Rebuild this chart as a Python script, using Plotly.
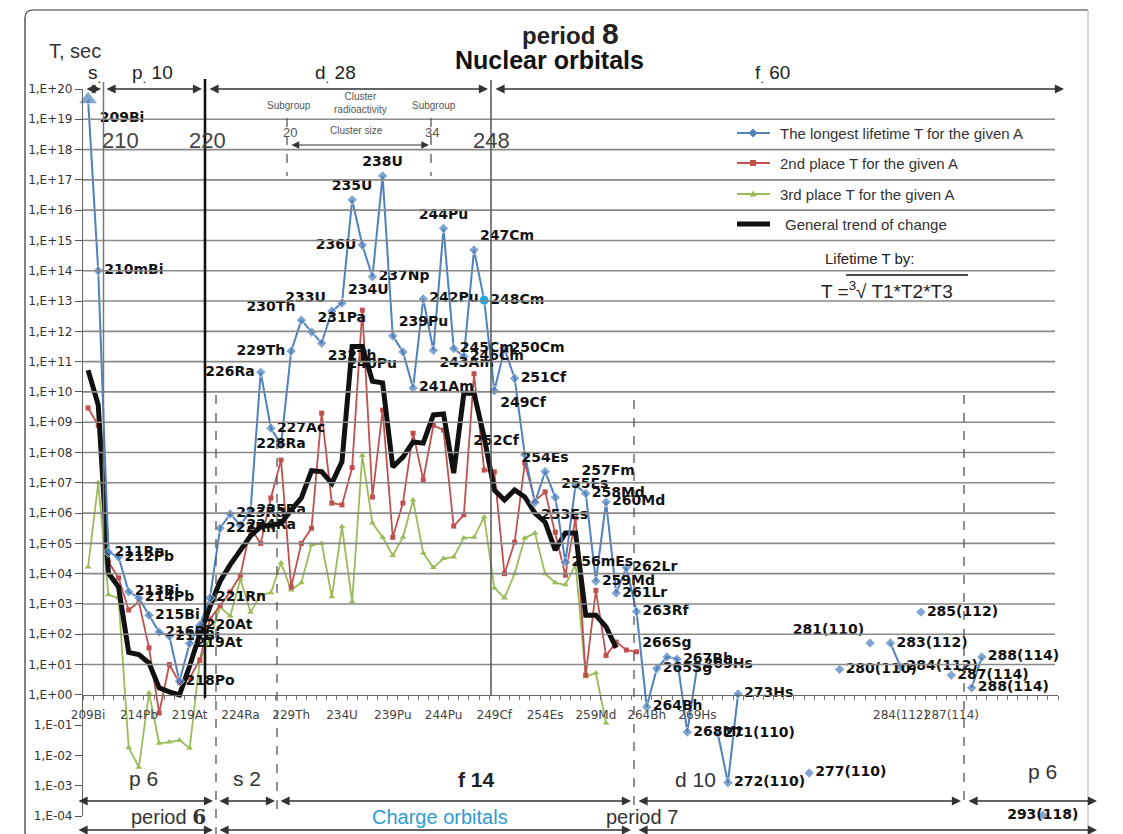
import plotly.graph_objects as go

# ---------------- DATA ----------------
categories = [
    "209Bi", "210mBi", "211Rn", "212Pb", "213Bi", "214Pb", "215Bi", "216Bi", "217Bi", "218Po",
    "219At", "220At", "221Rn", "222Rn", "223Ra", "224Ra", "225Ra", "226Ra", "227Ac", "228Ra",
    "229Th", "230Th", "231Pa", "232Th", "233U", "234U", "235U", "236U", "237Np", "238U",
    "239Pu", "240Pu", "241Am", "242Pu", "243Am", "244Pu", "245Cm", "246Cm", "247Cm", "248Cm",
    "249Cf", "250Cm", "251Cf", "252Cf", "253Es", "254Es", "255Es", "256mEs", "257Fm", "258Md",
    "259Md", "260Md", "261Lr", "262Lr", "263Rf", "264Bh", "265Sg", "266Sg", "267Bh", "268Mt",
    "269Hs", "", "271(110)", "272(110)", "273Hs", "", "", "", "", "",
    "", "277(110)", "", "", "280(110)", "", "", "281(110)", "", "283(112)",
    "284(112)", "", "285(112)", "", "", "287(114)", "", "288(114)", "288(114)", "",
    "", "", "", "", "293(118)",
]

# log10(T, s)
longest_log10T = [
    19.65, 14.0, 4.71, 4.55, 3.4, 3.2, 2.63, 2.07, 1.94, 0.45,
    1.7, 2.3, 3.2, 5.5, 5.97, 5.6, 6.1, 10.65, 8.8, 8.26,
    11.35, 12.37, 11.98, 11.61, 12.67, 12.93, 16.34, 14.85, 13.8, 17.13,
    11.85, 11.32, 10.13, 13.07, 11.37, 15.4, 11.43, 11.17, 14.69, 13.03,
    10.04, 11.42, 10.45, 7.92, 6.35, 7.37, 6.52, 4.38, 6.93, 6.65,
    3.75, 6.37, 3.36, 4.2, 2.75, -0.4, 0.87, 1.25, 1.18, -1.23,
    1.0, None, -1.26, -2.9, 0.03, None, None, None, None, None,
    None, -2.58, None, None, 0.84, None, None, 1.71, None, 1.71,
    0.92, None, 2.73, None, None, 0.65, None, 0.23, 1.25, None,
    None, None, None, None, -3.97,
]

second_log10T = [
    9.47, 8.9, 4.39, 3.86, 2.8, 3.06, 1.55, -0.6, 1.0, 0.39,
    0.55, 1.15, 2.5, 2.95, 3.4, 3.95, 5.5, 5.0, 6.5, 7.75,
    3.56, 5.0, 5.5, 9.3, 6.33, 6.27, 7.5, 12.7, 6.53, 9.4,
    5.2, 6.33, 8.64, 7.1, 8.9, 8.74, 5.57, 5.94, 10.6, 7.42,
    7.36, 4.0, 5.04, 7.65, 6.4, 6.7, 5.37, 3.95, 5.84, 0.65,
    3.45, 1.3, 1.74, 1.48, 1.42,
]

third_log10T = [
    4.22, 7.0, 3.3, 3.2, -1.75, -2.39, 0.06, -1.6, -1.56, -1.5,
    -1.76, 1.1, 1.9, 2.9, 2.6, 3.82, 2.73, 3.3, 3.37, 4.35,
    3.46, 3.7, 4.95, 5.0, 3.24, 5.55, 3.07, 7.9, 5.67, 5.2,
    4.6, 5.2, 6.43, 4.68, 4.2, 4.5, 4.55, 5.18, 5.2, 5.87,
    3.53, 3.2, 4.0, 5.18, 5.34, 4.0, 3.7, 3.63, 4.3, 0.6,
    0.72, -0.93,
]

trend_log10T = [
    10.72, 9.57, 4.02, 3.56, 1.4, 1.33, 1.05, 0.23, 0.1, 0.0,
    0.95, 2.0, 2.9, 3.75, 4.3, 4.75, 5.25, 5.55, 5.6, 5.66,
    6.1, 6.5, 7.4, 7.37, 6.98, 7.7, 11.5, 11.5, 10.35, 10.3,
    7.52, 7.85, 8.35, 8.31, 9.24, 9.27, 7.32, 9.96, 9.96, 8.5,
    6.76, 6.43, 6.76, 6.53, 6.0, 5.7, 4.78, 5.34, 5.34, 2.63,
    2.63, 2.24, 1.55,
]

ytick_exponents = list(range(-4, 21))
xtick_step = 5

legend_texts = ["The longest lifetime T for the given A", "2nd place T for the given A",
                "3rd place T for the given A", "General trend of change"]

# ---------------- STYLE ----------------
BLUE, RED, GREEN, BLACK = "#4F81BD", "#C0504D", "#9BBB59", "#111111"
LIGHTBLUE = "#1FA7E3"
TXT = "Liberation Sans"
LBL = "DejaVu Sans"

label_pos = {0: "bottom right", 17: "middle left", 19: "middle center", 20: "middle left",
             21: "top left", 22: "top right", 23: "bottom right", 24: "top left", 25: "top right",
             26: "top center", 27: "middle left", 29: "top center", 30: "top right", 31: "bottom left",
             34: "bottom right", 35: "top center", 38: "top right", 40: "bottom right", 43: "top left",
             44: "bottom right", 45: "top center", 46: "top right", 48: "top right", 57: "top center",
             77: "top left", 94: "middle center"}

W, H = 1123, 834
L, R, T, B = 83, 1058, 89, 816


def px(x):
    return (x - L) / (R - L)


def py(y):
    return (B - y) / (B - T)


def to_T(vals):
    return [None if v is None else 10.0 ** v for v in vals]


shapes = []
annotations = []


def line(x0, y0, x1, y1, color="#333", width=1.3, dash="solid"):
    shapes.append(dict(type="line", xref="paper", yref="paper", x0=px(x0), y0=py(y0),
                       x1=px(x1), y1=py(y1), line=dict(color=color, width=width, dash=dash)))


def darrow(x0, x1, y, color="#333", width=1.3):
    annotations.append(dict(x=px(x1), y=py(y), xref="paper", yref="paper", text="",
                            showarrow=True, ax=x0 - x1, ay=0, axref="pixel", ayref="pixel",
                            arrowhead=2, startarrowhead=2, arrowside="end+start",
                            arrowsize=1.4, startarrowsize=1.4, arrowwidth=width, arrowcolor=color))


def txt(x, y, s, size=14, color="#222", family=TXT, xanchor="center", yanchor="middle"):
    annotations.append(dict(x=px(x), y=py(y), xref="paper", yref="paper", text=s, showarrow=False,
                            xanchor=xanchor, yanchor=yanchor,
                            font=dict(size=size, color=color, family=family)))


# horizontal grid lines (decades 1..19)
for k in range(1, 20):
    shapes.append(dict(type="line", xref="paper", yref="paper", x0=0, x1=px(1055),
                       y0=(k + 4) / 24, y1=(k + 4) / 24, line=dict(color="#8a8a8a", width=1.6)))

# vertical lines
line(103.5, 82, 103.5, 695, "#777", 1.5)
line(205, 79, 205, 698, "#111", 2.6)
line(491, 80, 491, 695, "#555", 1.5)
for xv, y0, y1 in [(216, 395, 834), (277, 440, 812), (634, 400, 808), (964, 395, 808),
                   (287, 118, 176), (431, 118, 176)]:
    line(xv, y0, xv, y1, "#555", 1.3, "dash")

# outer frame
shapes.append(dict(type="path", xref="paper", yref="paper",
                   path=f"M {px(25)},{py(840)} L {px(25)},{py(18)} Q {px(25)},{py(10)} {px(33)},{py(10)} L {px(1088)},{py(10)}",
                   line=dict(color="#333", width=1.2)))
line(1088, 10, 1088, 840, "#bbbbbb", 1.2)

# top sub-level arrows
darrow(85, 101, 89)
darrow(105, 202, 89)
darrow(208, 488, 89)
darrow(494, 1064, 89)
darrow(290, 429, 145, "#333", 1.1)

# bottom arrows
for a, b in [(77, 213), (218, 275), (279, 631), (637, 961), (967, 1097)]:
    darrow(a, b, 801)
for a, b in [(77, 213), (218, 631), (637, 1097)]:
    darrow(a, b, 830)

# titles and text
txt(570, 33, "<b>period <span style='font-size:30px'>8</span></b>", 24, "#222")
txt(549, 60, "<b>Nuclear orbitals</b>", 25, "#111")
txt(75, 51, "T, sec", 20, "#333")
txt(94, 74, "s<sub>.</sub>", 19, "#222")
txt(152, 74, "p<sub>.</sub> 10", 19, "#222")
txt(335, 74, "d<sub>.</sub> 28", 19, "#222")
txt(772, 74, "f<sub>.</sub> 60", 19, "#222")
txt(120, 140, "210", 22, "#444")
txt(207, 140, "220", 22, "#444")
txt(491, 140, "248", 22, "#444")
txt(290, 132, "20", 13, "#555")
txt(432, 132, "34", 13, "#555")
txt(289, 106, "Subgroup", 10, "#555")
txt(434, 106, "Subgroup", 10, "#555")
txt(360, 103, "Cluster<br>radioactivity", 10, "#555")
txt(356, 131, "Cluster size", 10, "#555")
txt(143, 778, "p 6", 21, "#333")
txt(247, 778, "s 2", 21, "#333")
txt(476, 779, "<b>f 14</b>", 21, "#222")
txt(695, 779, "d 10", 21, "#333")
txt(1042, 771, "p 6", 21, "#333")
txt(168, 817, "period <span style='font-family:DejaVu Serif'><b>6</b></span>", 20, "#333")
txt(440, 817, "Charge orbitals", 20, "#2E9BD4")
txt(642, 817, "period 7", 20, "#333")
txt(870, 258, "Lifetime T by:", 15, "#222")
txt(887, 290, "T =<sup>3</sup>√ T1*T2*T3", 19, "#222")
line(846, 275, 968, 275, "#111", 1.6)

# legend (drawn manually)
leg_y = [133, 163, 194, 224]
leg_colors = [BLUE, RED, GREEN, BLACK]
for yy, c, t in zip(leg_y, leg_colors, legend_texts):
    w = 5 if c == BLACK else 2
    line(737, yy, 770, yy, c, w)
    txt(778 if c != BLACK else 783, yy, t, 15, "#333", xanchor="left")
cx = 753
d = 4.5
shapes.append(dict(type="path", xref="paper", yref="paper", fillcolor=BLUE, line=dict(width=0),
                   path=f"M {px(cx)},{py(133 - d)} L {px(cx + d)},{py(133)} L {px(cx)},{py(133 + d)} L {px(cx - d)},{py(133)} Z"))
shapes.append(dict(type="rect", xref="paper", yref="paper", fillcolor=RED, line=dict(width=0),
                   x0=px(cx - 3), x1=px(cx + 3), y0=py(163 + 3), y1=py(163 - 3)))
shapes.append(dict(type="path", xref="paper", yref="paper", fillcolor=GREEN, line=dict(width=0),
                   path=f"M {px(cx)},{py(194 - 3.5)} L {px(cx + 3.5)},{py(194 + 2.5)} L {px(cx - 3.5)},{py(194 + 2.5)} Z"))

# ---------------- TRACES ----------------
fig = go.Figure()

fig.add_trace(go.Scatter(x=list(range(len(third_log10T))), y=to_T(third_log10T), mode="lines+markers",
                         line=dict(color=GREEN, width=1.8),
                         marker=dict(symbol="triangle-up", size=6, color=GREEN), hoverinfo="skip"))
fig.add_trace(go.Scatter(x=list(range(len(second_log10T))), y=to_T(second_log10T), mode="lines+markers",
                         line=dict(color=RED, width=1.8),
                         marker=dict(symbol="square", size=5, color=RED), hoverinfo="skip"))
fig.add_trace(go.Scatter(x=list(range(len(trend_log10T))), y=to_T(trend_log10T), mode="lines",
                         line=dict(color=BLACK, width=5), hoverinfo="skip"))

n = len(longest_log10T)
texts = [categories[i] if longest_log10T[i] is not None else "" for i in range(n)]
positions = [label_pos.get(i, "middle right") for i in range(n)]
symbols = ["triangle-up" if i == 0 else "diamond" for i in range(n)]
sizes = [17 if i == 0 else 8 for i in range(n)]
fig.add_trace(go.Scatter(x=list(range(n)), y=to_T(longest_log10T), mode="lines+markers+text",
                         text=texts, textposition=positions, cliponaxis=False,
                         textfont=dict(family=LBL, size=14, color="#111", weight="bold"),
                         line=dict(color=BLUE, width=2),
                         marker=dict(symbol=symbols, size=sizes, color=BLUE), hoverinfo="skip"))
hl = categories.index("248Cm")
fig.add_trace(go.Scatter(x=[hl], y=[10.0 ** longest_log10T[hl]], mode="markers",
                         marker=dict(symbol="circle", size=9, color=LIGHTBLUE), hoverinfo="skip"))

xtv = list(range(0, n, xtick_step))
fig.update_layout(
    width=W, height=H, autosize=False,
    margin=dict(l=L, r=W - R, t=T, b=H - B, pad=0),
    paper_bgcolor="white", plot_bgcolor="white", showlegend=False,
    shapes=shapes, annotations=annotations,
    xaxis=dict(range=[-0.5, 95.5], anchor="free", position=4 / 24, showgrid=False, zeroline=False,
               showline=True, linecolor="#666", linewidth=1.4,
               tickmode="array", tickvals=xtv, ticktext=[categories[i] for i in xtv],
               ticks="", ticklabelstandoff=9, automargin=False, tickangle=0,
               tickfont=dict(family=LBL, size=12, color="#444"),
               minor=dict(tick0=-0.5, dtick=1, ticks="outside", ticklen=4, tickcolor="#777",
                          tickwidth=1, showgrid=False)),
    yaxis=dict(type="log", range=[-4, 20], showgrid=False, zeroline=False,
               showline=True, linecolor="#666", linewidth=1.2,
               tickmode="array", tickvals=[10.0 ** k for k in ytick_exponents],
               ticktext=[f"1,E{k:+03d}" for k in ytick_exponents],
               ticks="outside", ticklen=7, tickcolor="#555", automargin=False,
               tickfont=dict(family=LBL, size=12, color="#333")),
)

fig.write_html("out.html")
